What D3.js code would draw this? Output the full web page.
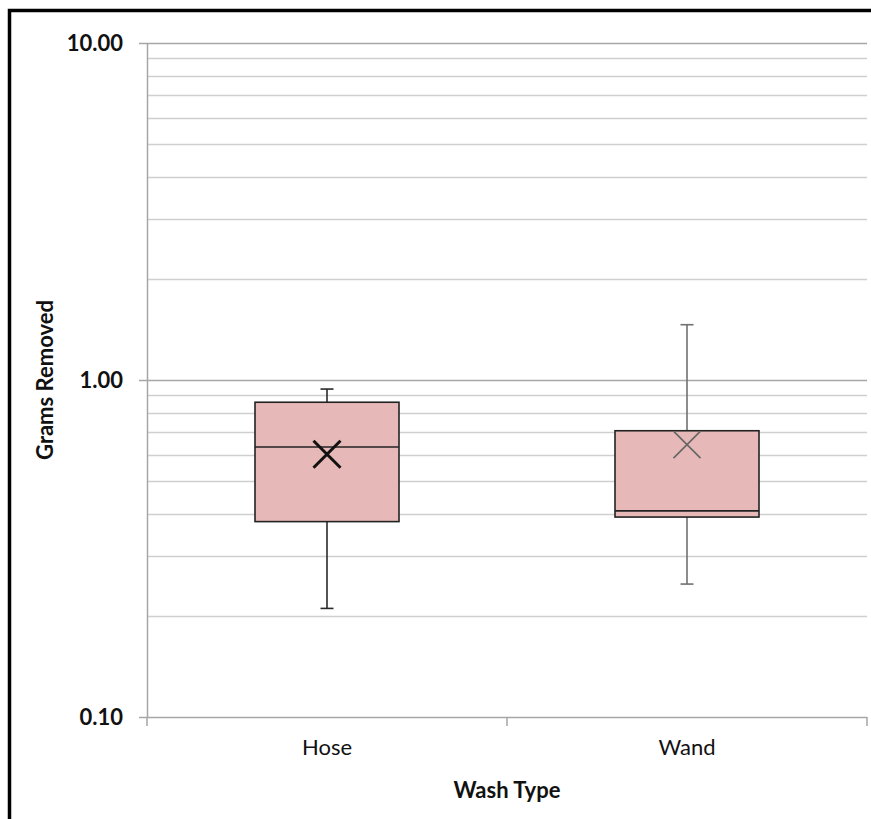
<!DOCTYPE html>
<html>
<head>
<meta charset="utf-8">
<script src="https://cdn.jsdelivr.net/npm/d3@7"></script>
<style>
  html, body { margin: 0; padding: 0; background: #fff; }
  svg { display: block; }
  text { font-family: Lato, "Open Sans", sans-serif; }
</style>
</head>
<body>
<svg id="chart" width="871" height="819"></svg>
<script>
// ---- data ----
const categories = ["Hose", "Wand"];
const whiskerLow = [0.210, 0.248];
const q1 = [0.380, 0.392];
const median = [0.633, 0.409];
const q3 = [0.859, 0.707];
const whiskerHigh = [0.940, 1.459];
const mean = [0.602, 0.643];
const yTickValues = [0.1, 1, 10];
const yTickLabels = ["0.10", "1.00", "10.00"];
const xTitle = "Wash Type";
const yTitle = "Grams Removed";

// ---- layout ----
const svg = d3.select("#chart");
const plot = { left: 147, right: 867, top: 43, bottom: 717 };

const x = d3.scaleBand().domain(categories).range([plot.left, plot.right]);
const y = d3.scaleLog().domain([0.1, 10]).range([plot.bottom, plot.top]);

// outer border
svg.append("rect")
  .attr("x", 9.5).attr("y", 10.5)
  .attr("width", 1000).attr("height", 1000)
  .attr("fill", "none").attr("stroke", "#000").attr("stroke-width", 3.5);

// gridlines
const gridVals = y.ticks();
svg.append("g").selectAll("line").data(gridVals.filter(v => v > 0.1 + 1e-9)).join("line")
  .attr("x1", plot.left).attr("x2", plot.right)
  .attr("y1", d => Math.round(y(d)) + 0.5).attr("y2", d => Math.round(y(d)) + 0.5)
  .attr("stroke", d => yTickValues.some(t => Math.abs(t - d) < 1e-9) ? "#a6a6a6" : "#cfcfcf")
  .attr("stroke-width", 1.5);

// y axis
const yAxis = d3.axisLeft(y).tickValues(yTickValues)
  .tickFormat((d, i) => yTickLabels[i]).tickSize(8).tickPadding(16);
const gy = svg.append("g").attr("transform", `translate(${plot.left},0)`).call(yAxis);
gy.select(".domain").attr("stroke", "#a6a6a6").attr("stroke-width", 1.5)
  .attr("d", `M0.5,${plot.top}V${plot.bottom}`);
gy.selectAll(".tick line").attr("stroke", "#a6a6a6").attr("stroke-width", 1.5);
gy.selectAll(".tick text").attr("font-family", "Lato, sans-serif")
  .attr("font-size", 22).attr("font-weight", "bold").attr("fill", "#111");

// x axis
const xAxis = d3.axisBottom(x).tickSize(0).tickPadding(22);
const gx = svg.append("g").attr("transform", `translate(0,${plot.bottom})`).call(xAxis);
gx.select(".domain").attr("stroke", "#a6a6a6").attr("stroke-width", 1.5)
  .attr("d", `M${plot.left},0.5H${plot.right}`);
gx.selectAll(".tick text").attr("font-family", "Lato, sans-serif")
  .attr("font-size", 22).attr("fill", "#111");
// boundary tick marks between categories
const bounds = [plot.left, ...categories.map(c => x(c) + x.bandwidth())];
gx.append("g").selectAll("line").data(bounds).join("line")
  .attr("x1", d => d).attr("x2", d => d).attr("y1", 0).attr("y2", 9)
  .attr("stroke", "#a6a6a6").attr("stroke-width", 1.5);

// titles
svg.append("text")
  .attr("x", (plot.left + plot.right) / 2).attr("y", 798)
  .attr("text-anchor", "middle").attr("font-size", 22).attr("font-weight", "bold")
  .attr("fill", "#111").text(xTitle);
svg.append("text")
  .attr("transform", `translate(53,${(plot.top + plot.bottom) / 2}) rotate(-90)`)
  .attr("text-anchor", "middle").attr("font-size", 22).attr("font-weight", "bold")
  .attr("fill", "#111").text(yTitle);

// boxes
const boxW = x.bandwidth() * 0.4;
const whiskerColor = ["#2a2a2a", "#707070"];
const meanColor = ["#111", "#666"];
const meanWidth = [3, 1.6];
const g = svg.append("g");
categories.forEach((c, i) => {
  const cx = x(c) + x.bandwidth() / 2;
  // whiskers
  g.append("line").attr("x1", cx).attr("x2", cx)
    .attr("y1", y(whiskerHigh[i])).attr("y2", y(q3[i]))
    .attr("stroke", whiskerColor[i]).attr("stroke-width", 1.6);
  g.append("line").attr("x1", cx).attr("x2", cx)
    .attr("y1", y(q1[i])).attr("y2", y(whiskerLow[i]))
    .attr("stroke", whiskerColor[i]).attr("stroke-width", 1.6);
  [whiskerHigh[i], whiskerLow[i]].forEach(v => {
    g.append("line").attr("x1", cx - 6.5).attr("x2", cx + 6.5)
      .attr("y1", y(v)).attr("y2", y(v))
      .attr("stroke", whiskerColor[i]).attr("stroke-width", 1.6);
  });
  // box
  g.append("rect")
    .attr("x", cx - boxW / 2).attr("width", boxW)
    .attr("y", y(q3[i])).attr("height", y(q1[i]) - y(q3[i]))
    .attr("fill", "#e6b9b8").attr("stroke", "#222").attr("stroke-width", 1.6);
  // median
  g.append("line").attr("x1", cx - boxW / 2).attr("x2", cx + boxW / 2)
    .attr("y1", y(median[i])).attr("y2", y(median[i]))
    .attr("stroke", "#222").attr("stroke-width", 1.6);
  // mean marker (X)
  const my = y(mean[i]), s = 13.5;
  g.append("path")
    .attr("d", `M${cx - s},${my - s}L${cx + s},${my + s}M${cx - s},${my + s}L${cx + s},${my - s}`)
    .attr("stroke", meanColor[i]).attr("stroke-width", meanWidth[i]).attr("fill", "none");
});
</script>
</body>
</html>
